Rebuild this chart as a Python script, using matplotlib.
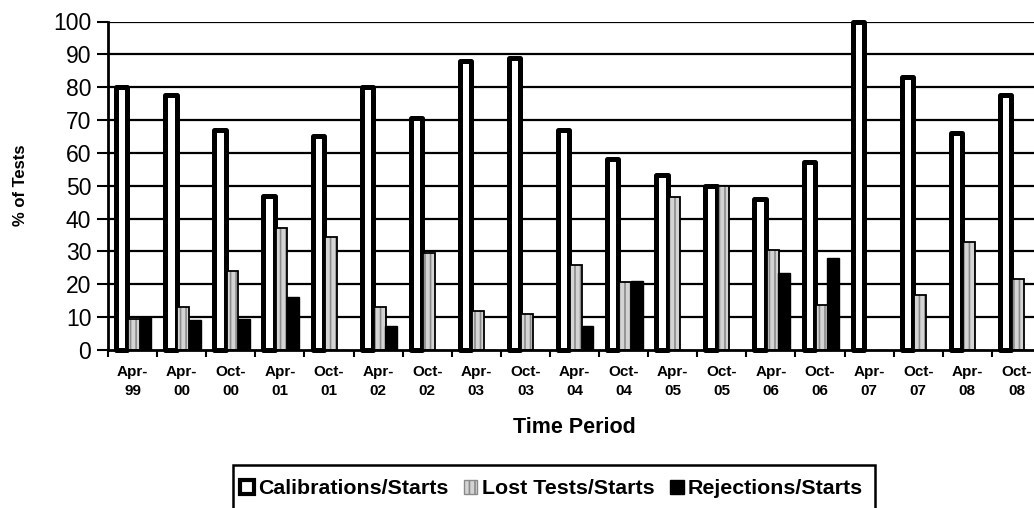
import numpy as np
import matplotlib.pyplot as plt
from matplotlib.patches import Patch, Rectangle

plt.rcParams['font.family'] = ['Liberation Sans', 'DejaVu Sans']
plt.rcParams['hatch.linewidth'] = 1.2

periods = ['Apr-\n99', 'Apr-\n00', 'Oct-\n00', 'Apr-\n01', 'Oct-\n01', 'Apr-\n02',
           'Oct-\n02', 'Apr-\n03', 'Oct-\n03', 'Apr-\n04', 'Oct-\n04', 'Apr-\n05',
           'Oct-\n05', 'Apr-\n06', 'Oct-\n06', 'Apr-\n07', 'Oct-\n07', 'Apr-\n08',
           'Oct-\n08']
calibrations = [80, 77.5, 67, 47, 65, 80, 70.5, 88, 89, 67, 58, 53.2, 50, 46, 57.2, 100, 83, 66, 77.5]
lost_tests = [9.5, 13, 24, 37, 34.5, 13, 29.5, 12, 11, 26, 20.8, 46.5, 50, 30.5, 13.7, 0, 16.8, 33, 21.5]
rejections = [10, 9, 9.5, 16, 0, 7.3, 0, 0, 0, 7.3, 21, 0, 0, 23.3, 28, 0, 0, 0, 0]

W, H = 1034, 508
fig = plt.figure(figsize=(W / 100, H / 100), dpi=100)
ax = fig.add_axes([108 / W, 1 - 350 / H, (1041 - 108) / W, (350 - 21.5) / H])

x = np.arange(len(periods))
bw = 0.24

# horizontal grid drawn under the bars
for v in range(10, 101, 10):
    ax.axhline(v, color='black', lw=1.6, zorder=1)

ax.bar(x + 0.28, calibrations, 0.23, color='white', edgecolor='black', lw=3.6,
       joinstyle='round', zorder=3, clip_on=False)
ax.bar(x + 0.535, lost_tests, bw, color='#d4d4d4', edgecolor='#8a8a8a', hatch='|||',
       lw=0, zorder=4)
ax.bar(x + 0.535, [v if v > 0 else np.nan for v in lost_tests], bw, fill=False,
       edgecolor='black', lw=1.3, zorder=4)
ax.bar(x + 0.765, rejections, bw, color='black', edgecolor='black', lw=1.0, zorder=4)

ax.set_xlim(0, len(periods))
ax.set_ylim(0, 100)
ax.set_yticks(range(0, 101, 10))
ax.tick_params(axis='y', labelsize=16.5, length=8, width=1.5, pad=4)

ax.set_xticks(x, minor=True)
ax.set_xticks(x + 0.5)
ax.set_xticklabels(periods, fontsize=11, fontweight='bold', linespacing=1.4)
ax.tick_params(axis='x', which='major', length=0, pad=11)
ax.tick_params(axis='x', which='minor', length=5, width=1.5)

for side in ['top', 'right']:
    ax.spines[side].set_visible(False)
for side in ['left', 'bottom']:
    ax.spines[side].set_linewidth(2)
    ax.spines[side].set_zorder(5)

ax.set_ylabel('% of Tests', fontsize=12, fontweight='bold', labelpad=18)
ax.set_xlabel('Time Period', fontsize=15.5, fontweight='bold', labelpad=14)

# legend box runs off the bottom edge of the figure
fig.patches.append(Rectangle((233 / W, -10 / H), (875 - 233) / W, (1 - 465 / H) + 10 / H,
                             transform=fig.transFigure, facecolor='white',
                             edgecolor='black', lw=1.8, zorder=0))

handles = [Patch(facecolor='white', edgecolor='black', lw=3.0),
           Patch(facecolor='#d4d4d4', edgecolor='#8a8a8a', hatch='|||', lw=1.0),
           Patch(facecolor='black', edgecolor='black')]
labels = ['Calibrations/Starts', 'Lost Tests/Starts', 'Rejections/Starts']
leg = fig.legend(handles, labels, loc='center left', bbox_to_anchor=(236 / W, 1 - 489 / H),
                 ncol=3, prop={'weight': 'bold', 'size': 15.4},
                 handlelength=0.62, handleheight=0.62, handletextpad=0.2,
                 columnspacing=0.75, borderpad=0.2, frameon=False,
                 borderaxespad=0)

fig.savefig('out.png', dpi=100)
